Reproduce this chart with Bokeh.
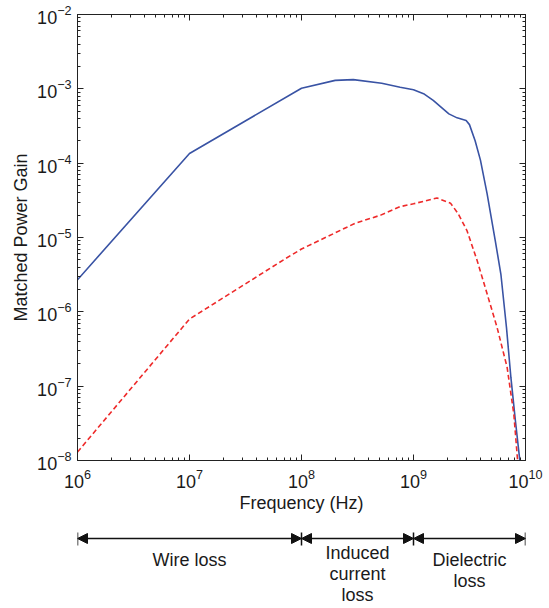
from bokeh.plotting import figure
from bokeh.models import Range1d, LogAxis, FixedTicker, Arrow, NormalHead, ColumnDataSource
from bokeh.layouts import column
from bokeh.embed import file_html
from bokeh.resources import INLINE
from bokeh.core.properties import value

FONT = "Liberation Sans"

# ---- data ----
x_ticks = [1e6, 1e7, 1e8, 1e9, 1e10]
y_ticks = [1e-8, 1e-7, 1e-6, 1e-5, 1e-4, 1e-3, 1e-2]

freq_total = [1e6, 1e7, 1e8, 2.0e8, 2.9e8, 5.2e8, 7.6e8, 1e9, 1.23e9, 1.5e9, 2.07e9,
              2.45e9, 2.95e9, 3.16e9, 3.55e9, 3.96e9, 4.54e9, 5.37e9, 6.03e9,
              6.76e9, 7.41e9, 8.13e9, 8.9e9]
gain_total = [2.7e-6, 1.35e-4, 1.02e-3, 1.3e-3, 1.33e-3, 1.19e-3, 1.05e-3, 9.7e-4,
              8.6e-4, 7.0e-4, 4.6e-4, 4.07e-4, 3.75e-4, 3.3e-4, 2.0e-4, 1.1e-4,
              3.9e-5, 9.1e-6, 3.2e-6, 6.2e-7, 1.3e-7, 3.4e-8, 1e-8]

freq_second = [1e6, 1e7, 7.2e7, 1e8, 3e8, 5.1e8, 7.6e8, 1e9, 1.62e9, 2.14e9, 2.5e9,
               3.0e9, 3.7e9, 4.54e9, 5.57e9, 6.85e9, 7.87e9, 8.5e9]
gain_second = [1.3e-8, 8e-7, 5.2e-6, 7e-6, 1.55e-5, 2.0e-5, 2.6e-5, 2.84e-5, 3.4e-5,
               2.9e-5, 2.1e-5, 1.24e-5, 4.9e-6, 1.75e-6, 6.2e-7, 1.8e-7, 4.2e-8, 1e-8]

region_bounds = [1e6, 1e8, 1e9, 1e10]
region_labels = ["Wire loss", "Induced\ncurrent\nloss", "Dielectric\nloss"]

x_minor = [m * t for t in x_ticks[:-1] for m in range(2, 10)]
y_minor = [m * t for t in y_ticks[:-1] for m in range(2, 10)]

W = 549
ML, MR = 77, 24
H1, H2 = 520, 88

p = figure(width=W, height=H1, x_axis_type="log", y_axis_type="log",
           x_range=Range1d(1e6, 1e10), y_range=Range1d(1e-8, 1e-2),
           output_backend="svg", toolbar_location=None,
           min_border_left=ML, min_border_right=MR, min_border_top=14, min_border_bottom=60)
p.grid.visible = False
p.outline_line_color = "#222222"
p.background_fill_color = "white"
p.border_fill_color = "white"


def style(ax, ticks, minor, labels=True):
    ax.ticker = FixedTicker(ticks=ticks, minor_ticks=minor)
    ax.major_tick_in = 6
    ax.major_tick_out = 0
    ax.minor_tick_in = 3
    ax.minor_tick_out = 0
    ax.axis_line_color = "#222222"
    ax.major_tick_line_color = "#222222"
    ax.minor_tick_line_color = "#222222"
    if labels:
        ax.major_label_text_font = FONT
        ax.major_label_text_font_size = "18px"
        ax.major_label_text_color = "#1a1a1a"
        ax.axis_label_text_font = FONT
        ax.axis_label_text_font_size = "18px"
        ax.axis_label_text_font_style = "normal"
        ax.axis_label_text_color = "#1a1a1a"
    else:
        ax.major_label_text_font_size = "1px"
        ax.major_label_text_alpha = 0
        ax.major_label_standoff = 0


style(p.xaxis[0], x_ticks, x_minor)
style(p.yaxis[0], y_ticks, y_minor)
p.xaxis[0].axis_label = "Frequency (Hz)"
p.yaxis[0].axis_label = "Matched Power Gain"
p.xaxis[0].major_label_standoff = 8
p.yaxis[0].major_label_standoff = 6
p.xaxis[0].axis_label_standoff = 2
p.yaxis[0].axis_label_standoff = 3

top_ax = LogAxis()
style(top_ax, x_ticks, x_minor, labels=False)
p.add_layout(top_ax, "above")
right_ax = LogAxis()
style(right_ax, y_ticks, y_minor, labels=False)
p.add_layout(right_ax, "right")

p.line(freq_total, gain_total, line_color="#3953a4", line_width=1.6)
p.line(freq_second, gain_second, line_color="#ee2a2a", line_width=1.6, line_dash="5 3")

# ---- region annotation panel ----
q = figure(width=W, height=H2, x_axis_type="log", x_range=p.x_range,
           y_range=Range1d(H2, 0), output_backend="svg", toolbar_location=None,
           min_border_left=ML, min_border_right=MR, min_border_top=0, min_border_bottom=0)
q.axis.visible = False
q.grid.visible = False
q.outline_line_color = None

arrow_y = 18
q.segment(x0=region_bounds, y0=[12] * len(region_bounds), x1=region_bounds,
          y1=[25] * len(region_bounds), line_color="#111111", line_width=1.5)
for a, b in zip(region_bounds[:-1], region_bounds[1:]):
    q.add_layout(Arrow(x_start=a, x_end=b, y_start=arrow_y, y_end=arrow_y,
                       line_color="#111111", line_width=1.5,
                       start=NormalHead(size=10, fill_color="#111111", line_color="#111111"),
                       end=NormalHead(size=10, fill_color="#111111", line_color="#111111")))

centers = [(a * b) ** 0.5 for a, b in zip(region_bounds[:-1], region_bounds[1:])]
label_top = [29, 22, 29]
src = ColumnDataSource(dict(x=centers, y=label_top, t=region_labels))
q.text(x="x", y="y", text="t", source=src, text_font=value(FONT), text_font_size="18px",
       text_align="center", text_baseline="top", text_color="#1a1a1a", text_line_height=1.05)

layout = column(p, q, spacing=0)
open("out.html", "w").write(file_html(layout, INLINE))
